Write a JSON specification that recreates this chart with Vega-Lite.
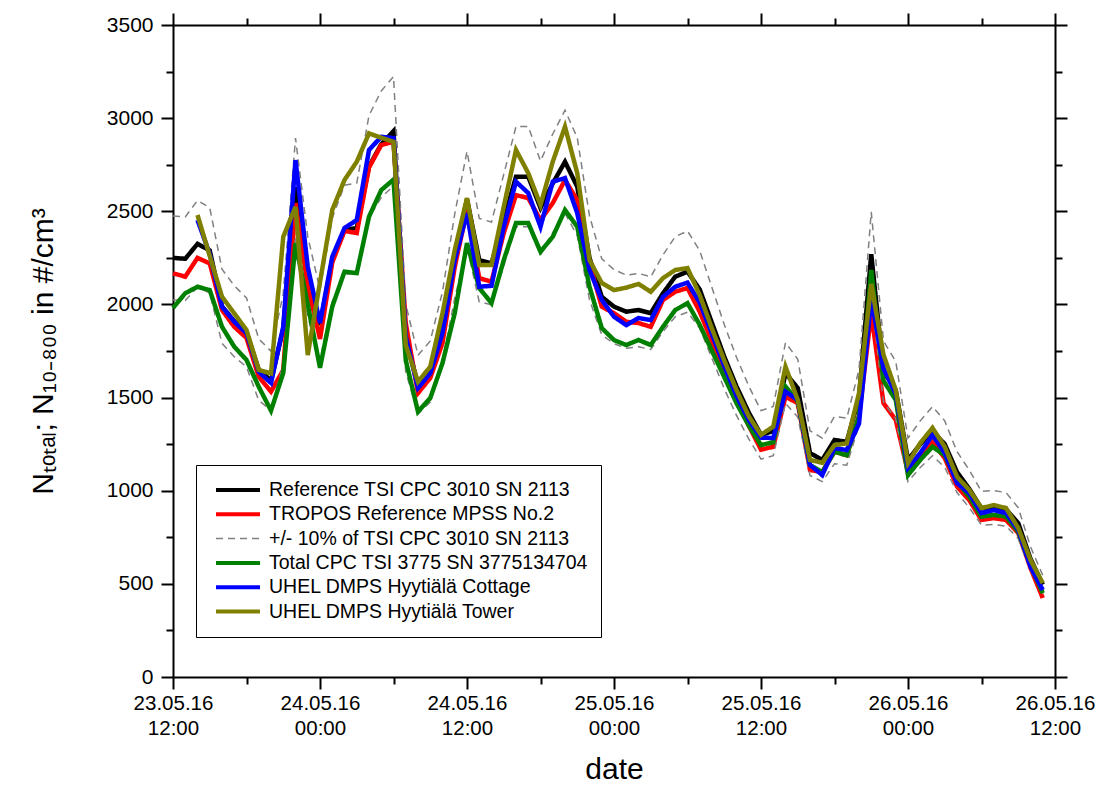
{
"$schema":"https://vega.github.io/schema/vega-lite/v6.json",
"width":882,"height":652,
"autosize":{"type":"none"},
"padding":{"left":173,"top":25,"right":45,"bottom":111},
"background":"white",
"datasets":{"d":[
{"t":"160523 12","s":"ref","v":2250},{"t":"160523 13","s":"ref","v":2245},{"t":"160523 14","s":"ref","v":2325},{"t":"160523 15","s":"ref","v":2290},{"t":"160523 16","s":"ref","v":1990},{"t":"160523 17","s":"ref","v":1910},{"t":"160523 18","s":"ref","v":1850},{"t":"160523 19","s":"ref","v":1650},{"t":"160523 20","s":"ref","v":1590},{"t":"160523 21","s":"ref","v":1870},{"t":"160523 22","s":"ref","v":2630},{"t":"160523 23","s":"ref","v":2150},
{"t":"160524 00","s":"ref","v":1890},{"t":"160524 01","s":"ref","v":2240},{"t":"160524 02","s":"ref","v":2400},{"t":"160524 03","s":"ref","v":2410},{"t":"160524 04","s":"ref","v":2740},{"t":"160524 05","s":"ref","v":2860},{"t":"160524 06","s":"ref","v":2930},{"t":"160524 07","s":"ref","v":1820},{"t":"160524 08","s":"ref","v":1570},{"t":"160524 09","s":"ref","v":1640},{"t":"160524 10","s":"ref","v":1880},{"t":"160524 11","s":"ref","v":2260},
{"t":"160524 12","s":"ref","v":2565},{"t":"160524 13","s":"ref","v":2238},{"t":"160524 14","s":"ref","v":2220},{"t":"160524 15","s":"ref","v":2453},{"t":"160524 16","s":"ref","v":2686},{"t":"160524 17","s":"ref","v":2686},{"t":"160524 18","s":"ref","v":2518},{"t":"160524 19","s":"ref","v":2650},{"t":"160524 20","s":"ref","v":2766},{"t":"160524 21","s":"ref","v":2632},{"t":"160524 22","s":"ref","v":2250},{"t":"160524 23","s":"ref","v":2041},
{"t":"160525 00","s":"ref","v":1988},{"t":"160525 01","s":"ref","v":1961},{"t":"160525 02","s":"ref","v":1970},{"t":"160525 03","s":"ref","v":1953},{"t":"160525 04","s":"ref","v":2060},{"t":"160525 05","s":"ref","v":2149},{"t":"160525 06","s":"ref","v":2176},{"t":"160525 07","s":"ref","v":2080},{"t":"160525 08","s":"ref","v":1900},{"t":"160525 09","s":"ref","v":1720},{"t":"160525 10","s":"ref","v":1560},{"t":"160525 11","s":"ref","v":1420},
{"t":"160525 12","s":"ref","v":1300},{"t":"160525 13","s":"ref","v":1320},{"t":"160525 14","s":"ref","v":1632},{"t":"160525 15","s":"ref","v":1551},{"t":"160525 16","s":"ref","v":1202},{"t":"160525 17","s":"ref","v":1165},{"t":"160525 18","s":"ref","v":1272},{"t":"160525 19","s":"ref","v":1263},{"t":"160525 20","s":"ref","v":1500},{"t":"160525 21","s":"ref","v":2270},{"t":"160525 22","s":"ref","v":1640},{"t":"160525 23","s":"ref","v":1540},
{"t":"160526 00","s":"ref","v":1165},{"t":"160526 01","s":"ref","v":1250},{"t":"160526 02","s":"ref","v":1320},{"t":"160526 03","s":"ref","v":1250},{"t":"160526 04","s":"ref","v":1100},{"t":"160526 05","s":"ref","v":1010},{"t":"160526 06","s":"ref","v":905},{"t":"160526 07","s":"ref","v":910},{"t":"160526 08","s":"ref","v":900},{"t":"160526 09","s":"ref","v":826},{"t":"160526 10","s":"ref","v":635},{"t":"160526 11","s":"ref","v":496},

{"t":"160523 12","s":"tro","v":2167},{"t":"160523 13","s":"tro","v":2149},{"t":"160523 14","s":"tro","v":2250},{"t":"160523 15","s":"tro","v":2220},{"t":"160523 16","s":"tro","v":1970},{"t":"160523 17","s":"tro","v":1880},{"t":"160523 18","s":"tro","v":1820},{"t":"160523 19","s":"tro","v":1612},{"t":"160523 20","s":"tro","v":1532},{"t":"160523 21","s":"tro","v":1648},{"t":"160523 22","s":"tro","v":2544},{"t":"160523 23","s":"tro","v":2100},
{"t":"160524 00","s":"tro","v":1815},{"t":"160524 01","s":"tro","v":2225},{"t":"160524 02","s":"tro","v":2395},{"t":"160524 03","s":"tro","v":2383},{"t":"160524 04","s":"tro","v":2735},{"t":"160524 05","s":"tro","v":2856},{"t":"160524 06","s":"tro","v":2873},{"t":"160524 07","s":"tro","v":1900},{"t":"160524 08","s":"tro","v":1524},{"t":"160524 09","s":"tro","v":1605},{"t":"160524 10","s":"tro","v":1793},{"t":"160524 11","s":"tro","v":2202},
{"t":"160524 12","s":"tro","v":2507},{"t":"160524 13","s":"tro","v":2141},{"t":"160524 14","s":"tro","v":2122},{"t":"160524 15","s":"tro","v":2383},{"t":"160524 16","s":"tro","v":2587},{"t":"160524 17","s":"tro","v":2571},{"t":"160524 18","s":"tro","v":2453},{"t":"160524 19","s":"tro","v":2544},{"t":"160524 20","s":"tro","v":2668},{"t":"160524 21","s":"tro","v":2560},{"t":"160524 22","s":"tro","v":2220},{"t":"160524 23","s":"tro","v":1988},
{"t":"160525 00","s":"tro","v":1953},{"t":"160525 01","s":"tro","v":1907},{"t":"160525 02","s":"tro","v":1900},{"t":"160525 03","s":"tro","v":1880},{"t":"160525 04","s":"tro","v":2024},{"t":"160525 05","s":"tro","v":2068},{"t":"160525 06","s":"tro","v":2088},{"t":"160525 07","s":"tro","v":1960},{"t":"160525 08","s":"tro","v":1800},{"t":"160525 09","s":"tro","v":1640},{"t":"160525 10","s":"tro","v":1490},{"t":"160525 11","s":"tro","v":1350},
{"t":"160525 12","s":"tro","v":1220},{"t":"160525 13","s":"tro","v":1236},{"t":"160525 14","s":"tro","v":1505},{"t":"160525 15","s":"tro","v":1470},{"t":"160525 16","s":"tro","v":1111},{"t":"160525 17","s":"tro","v":1100},{"t":"160525 18","s":"tro","v":1210},{"t":"160525 19","s":"tro","v":1190},{"t":"160525 20","s":"tro","v":1400},{"t":"160525 21","s":"tro","v":1953},{"t":"160525 22","s":"tro","v":1470},{"t":"160525 23","s":"tro","v":1380},
{"t":"160526 00","s":"tro","v":1100},{"t":"160526 01","s":"tro","v":1180},{"t":"160526 02","s":"tro","v":1260},{"t":"160526 03","s":"tro","v":1175},{"t":"160526 04","s":"tro","v":1022},{"t":"160526 05","s":"tro","v":950},{"t":"160526 06","s":"tro","v":843},{"t":"160526 07","s":"tro","v":853},{"t":"160526 08","s":"tro","v":843},{"t":"160526 09","s":"tro","v":773},{"t":"160526 10","s":"tro","v":585},{"t":"160526 11","s":"tro","v":424},

{"t":"160523 12","s":"pm","k":"hi","v":2475},{"t":"160523 13","s":"pm","k":"hi","v":2470},{"t":"160523 14","s":"pm","k":"hi","v":2558},{"t":"160523 15","s":"pm","k":"hi","v":2519},{"t":"160523 16","s":"pm","k":"hi","v":2189},{"t":"160523 17","s":"pm","k":"hi","v":2101},{"t":"160523 18","s":"pm","k":"hi","v":2035},{"t":"160523 19","s":"pm","k":"hi","v":1815},{"t":"160523 20","s":"pm","k":"hi","v":1749},{"t":"160523 21","s":"pm","k":"hi","v":2057},{"t":"160523 22","s":"pm","k":"hi","v":2893},{"t":"160523 23","s":"pm","k":"hi","v":2365},
{"t":"160524 00","s":"pm","k":"hi","v":2079},{"t":"160524 01","s":"pm","k":"hi","v":2464},{"t":"160524 02","s":"pm","k":"hi","v":2640},{"t":"160524 03","s":"pm","k":"hi","v":2651},{"t":"160524 04","s":"pm","k":"hi","v":3014},{"t":"160524 05","s":"pm","k":"hi","v":3146},{"t":"160524 06","s":"pm","k":"hi","v":3223},{"t":"160524 07","s":"pm","k":"hi","v":2002},{"t":"160524 08","s":"pm","k":"hi","v":1727},{"t":"160524 09","s":"pm","k":"hi","v":1804},{"t":"160524 10","s":"pm","k":"hi","v":2068},{"t":"160524 11","s":"pm","k":"hi","v":2486},
{"t":"160524 12","s":"pm","k":"hi","v":2822},{"t":"160524 13","s":"pm","k":"hi","v":2462},{"t":"160524 14","s":"pm","k":"hi","v":2442},{"t":"160524 15","s":"pm","k":"hi","v":2698},{"t":"160524 16","s":"pm","k":"hi","v":2955},{"t":"160524 17","s":"pm","k":"hi","v":2955},{"t":"160524 18","s":"pm","k":"hi","v":2770},{"t":"160524 19","s":"pm","k":"hi","v":2915},{"t":"160524 20","s":"pm","k":"hi","v":3043},{"t":"160524 21","s":"pm","k":"hi","v":2895},{"t":"160524 22","s":"pm","k":"hi","v":2475},{"t":"160524 23","s":"pm","k":"hi","v":2245},
{"t":"160525 00","s":"pm","k":"hi","v":2187},{"t":"160525 01","s":"pm","k":"hi","v":2157},{"t":"160525 02","s":"pm","k":"hi","v":2167},{"t":"160525 03","s":"pm","k":"hi","v":2148},{"t":"160525 04","s":"pm","k":"hi","v":2266},{"t":"160525 05","s":"pm","k":"hi","v":2364},{"t":"160525 06","s":"pm","k":"hi","v":2394},{"t":"160525 07","s":"pm","k":"hi","v":2288},{"t":"160525 08","s":"pm","k":"hi","v":2090},{"t":"160525 09","s":"pm","k":"hi","v":1892},{"t":"160525 10","s":"pm","k":"hi","v":1716},{"t":"160525 11","s":"pm","k":"hi","v":1562},
{"t":"160525 12","s":"pm","k":"hi","v":1430},{"t":"160525 13","s":"pm","k":"hi","v":1452},{"t":"160525 14","s":"pm","k":"hi","v":1795},{"t":"160525 15","s":"pm","k":"hi","v":1706},{"t":"160525 16","s":"pm","k":"hi","v":1322},{"t":"160525 17","s":"pm","k":"hi","v":1282},{"t":"160525 18","s":"pm","k":"hi","v":1399},{"t":"160525 19","s":"pm","k":"hi","v":1389},{"t":"160525 20","s":"pm","k":"hi","v":1650},{"t":"160525 21","s":"pm","k":"hi","v":2497},{"t":"160525 22","s":"pm","k":"hi","v":1804},{"t":"160525 23","s":"pm","k":"hi","v":1694},
{"t":"160526 00","s":"pm","k":"hi","v":1282},{"t":"160526 01","s":"pm","k":"hi","v":1375},{"t":"160526 02","s":"pm","k":"hi","v":1452},{"t":"160526 03","s":"pm","k":"hi","v":1375},{"t":"160526 04","s":"pm","k":"hi","v":1210},{"t":"160526 05","s":"pm","k":"hi","v":1111},{"t":"160526 06","s":"pm","k":"hi","v":996},{"t":"160526 07","s":"pm","k":"hi","v":1001},{"t":"160526 08","s":"pm","k":"hi","v":990},{"t":"160526 09","s":"pm","k":"hi","v":909},{"t":"160526 10","s":"pm","k":"hi","v":699},{"t":"160526 11","s":"pm","k":"hi","v":546},

{"t":"160523 12","s":"pm","k":"lo","v":2025},{"t":"160523 13","s":"pm","k":"lo","v":2021},{"t":"160523 14","s":"pm","k":"lo","v":2093},{"t":"160523 15","s":"pm","k":"lo","v":2061},{"t":"160523 16","s":"pm","k":"lo","v":1791},{"t":"160523 17","s":"pm","k":"lo","v":1719},{"t":"160523 18","s":"pm","k":"lo","v":1665},{"t":"160523 19","s":"pm","k":"lo","v":1485},{"t":"160523 20","s":"pm","k":"lo","v":1431},{"t":"160523 21","s":"pm","k":"lo","v":1683},{"t":"160523 22","s":"pm","k":"lo","v":2367},{"t":"160523 23","s":"pm","k":"lo","v":1935},
{"t":"160524 00","s":"pm","k":"lo","v":1701},{"t":"160524 01","s":"pm","k":"lo","v":2016},{"t":"160524 02","s":"pm","k":"lo","v":2160},{"t":"160524 03","s":"pm","k":"lo","v":2169},{"t":"160524 04","s":"pm","k":"lo","v":2466},{"t":"160524 05","s":"pm","k":"lo","v":2574},{"t":"160524 06","s":"pm","k":"lo","v":2637},{"t":"160524 07","s":"pm","k":"lo","v":1638},{"t":"160524 08","s":"pm","k":"lo","v":1413},{"t":"160524 09","s":"pm","k":"lo","v":1476},{"t":"160524 10","s":"pm","k":"lo","v":1692},{"t":"160524 11","s":"pm","k":"lo","v":2034},
{"t":"160524 12","s":"pm","k":"lo","v":2309},{"t":"160524 13","s":"pm","k":"lo","v":2014},{"t":"160524 14","s":"pm","k":"lo","v":1998},{"t":"160524 15","s":"pm","k":"lo","v":2208},{"t":"160524 16","s":"pm","k":"lo","v":2417},{"t":"160524 17","s":"pm","k":"lo","v":2417},{"t":"160524 18","s":"pm","k":"lo","v":2266},{"t":"160524 19","s":"pm","k":"lo","v":2385},{"t":"160524 20","s":"pm","k":"lo","v":2489},{"t":"160524 21","s":"pm","k":"lo","v":2369},{"t":"160524 22","s":"pm","k":"lo","v":2025},{"t":"160524 23","s":"pm","k":"lo","v":1837},
{"t":"160525 00","s":"pm","k":"lo","v":1789},{"t":"160525 01","s":"pm","k":"lo","v":1765},{"t":"160525 02","s":"pm","k":"lo","v":1773},{"t":"160525 03","s":"pm","k":"lo","v":1758},{"t":"160525 04","s":"pm","k":"lo","v":1854},{"t":"160525 05","s":"pm","k":"lo","v":1934},{"t":"160525 06","s":"pm","k":"lo","v":1958},{"t":"160525 07","s":"pm","k":"lo","v":1872},{"t":"160525 08","s":"pm","k":"lo","v":1710},{"t":"160525 09","s":"pm","k":"lo","v":1548},{"t":"160525 10","s":"pm","k":"lo","v":1404},{"t":"160525 11","s":"pm","k":"lo","v":1278},
{"t":"160525 12","s":"pm","k":"lo","v":1170},{"t":"160525 13","s":"pm","k":"lo","v":1188},{"t":"160525 14","s":"pm","k":"lo","v":1469},{"t":"160525 15","s":"pm","k":"lo","v":1396},{"t":"160525 16","s":"pm","k":"lo","v":1082},{"t":"160525 17","s":"pm","k":"lo","v":1049},{"t":"160525 18","s":"pm","k":"lo","v":1145},{"t":"160525 19","s":"pm","k":"lo","v":1137},{"t":"160525 20","s":"pm","k":"lo","v":1350},{"t":"160525 21","s":"pm","k":"lo","v":2043},{"t":"160525 22","s":"pm","k":"lo","v":1476},{"t":"160525 23","s":"pm","k":"lo","v":1386},
{"t":"160526 00","s":"pm","k":"lo","v":1049},{"t":"160526 01","s":"pm","k":"lo","v":1125},{"t":"160526 02","s":"pm","k":"lo","v":1188},{"t":"160526 03","s":"pm","k":"lo","v":1125},{"t":"160526 04","s":"pm","k":"lo","v":990},{"t":"160526 05","s":"pm","k":"lo","v":909},{"t":"160526 06","s":"pm","k":"lo","v":815},{"t":"160526 07","s":"pm","k":"lo","v":819},{"t":"160526 08","s":"pm","k":"lo","v":810},{"t":"160526 09","s":"pm","k":"lo","v":743},{"t":"160526 10","s":"pm","k":"lo","v":572},{"t":"160526 11","s":"pm","k":"lo","v":446},

{"t":"160523 12","s":"cpc","v":1981},{"t":"160523 13","s":"cpc","v":2060},{"t":"160523 14","s":"cpc","v":2095},{"t":"160523 15","s":"cpc","v":2077},{"t":"160523 16","s":"cpc","v":1880},{"t":"160523 17","s":"cpc","v":1773},{"t":"160523 18","s":"cpc","v":1702},{"t":"160523 19","s":"cpc","v":1558},{"t":"160523 20","s":"cpc","v":1430},{"t":"160523 21","s":"cpc","v":1632},{"t":"160523 22","s":"cpc","v":2329},{"t":"160523 23","s":"cpc","v":2000},
{"t":"160524 00","s":"cpc","v":1660},{"t":"160524 01","s":"cpc","v":1988},{"t":"160524 02","s":"cpc","v":2176},{"t":"160524 03","s":"cpc","v":2168},{"t":"160524 04","s":"cpc","v":2471},{"t":"160524 05","s":"cpc","v":2614},{"t":"160524 06","s":"cpc","v":2670},{"t":"160524 07","s":"cpc","v":1700},{"t":"160524 08","s":"cpc","v":1424},{"t":"160524 09","s":"cpc","v":1497},{"t":"160524 10","s":"cpc","v":1685},{"t":"160524 11","s":"cpc","v":1953},
{"t":"160524 12","s":"cpc","v":2329},{"t":"160524 13","s":"cpc","v":2088},{"t":"160524 14","s":"cpc","v":2007},{"t":"160524 15","s":"cpc","v":2238},{"t":"160524 16","s":"cpc","v":2437},{"t":"160524 17","s":"cpc","v":2437},{"t":"160524 18","s":"cpc","v":2283},{"t":"160524 19","s":"cpc","v":2363},{"t":"160524 20","s":"cpc","v":2507},{"t":"160524 21","s":"cpc","v":2417},{"t":"160524 22","s":"cpc","v":2095},{"t":"160524 23","s":"cpc","v":1873},
{"t":"160525 00","s":"cpc","v":1809},{"t":"160525 01","s":"cpc","v":1782},{"t":"160525 02","s":"cpc","v":1809},{"t":"160525 03","s":"cpc","v":1782},{"t":"160525 04","s":"cpc","v":1880},{"t":"160525 05","s":"cpc","v":1970},{"t":"160525 06","s":"cpc","v":2007},{"t":"160525 07","s":"cpc","v":1890},{"t":"160525 08","s":"cpc","v":1750},{"t":"160525 09","s":"cpc","v":1610},{"t":"160525 10","s":"cpc","v":1470},{"t":"160525 11","s":"cpc","v":1350},
{"t":"160525 12","s":"cpc","v":1245},{"t":"160525 13","s":"cpc","v":1260},{"t":"160525 14","s":"cpc","v":1560},{"t":"160525 15","s":"cpc","v":1480},{"t":"160525 16","s":"cpc","v":1138},{"t":"160525 17","s":"cpc","v":1100},{"t":"160525 18","s":"cpc","v":1210},{"t":"160525 19","s":"cpc","v":1190},{"t":"160525 20","s":"cpc","v":1400},{"t":"160525 21","s":"cpc","v":2185},{"t":"160525 22","s":"cpc","v":1590},{"t":"160525 23","s":"cpc","v":1487},
{"t":"160526 00","s":"cpc","v":1084},{"t":"160526 01","s":"cpc","v":1165},{"t":"160526 02","s":"cpc","v":1236},{"t":"160526 03","s":"cpc","v":1190},{"t":"160526 04","s":"cpc","v":1050},{"t":"160526 05","s":"cpc","v":968},{"t":"160526 06","s":"cpc","v":861},{"t":"160526 07","s":"cpc","v":870},{"t":"160526 08","s":"cpc","v":861},{"t":"160526 09","s":"cpc","v":780},{"t":"160526 10","s":"cpc","v":600},{"t":"160526 11","s":"cpc","v":450},

{"t":"160523 14","s":"cot","v":2453},{"t":"160523 15","s":"cot","v":2270},{"t":"160523 16","s":"cot","v":1988},{"t":"160523 17","s":"cot","v":1907},{"t":"160523 18","s":"cot","v":1846},{"t":"160523 19","s":"cot","v":1639},{"t":"160523 20","s":"cot","v":1578},{"t":"160523 21","s":"cot","v":1880},{"t":"160523 22","s":"cot","v":2775},{"t":"160523 23","s":"cot","v":2202},
{"t":"160524 00","s":"cot","v":1900},{"t":"160524 01","s":"cot","v":2256},{"t":"160524 02","s":"cot","v":2410},{"t":"160524 03","s":"cot","v":2453},{"t":"160524 04","s":"cot","v":2829},{"t":"160524 05","s":"cot","v":2900},{"t":"160524 06","s":"cot","v":2893},{"t":"160524 07","s":"cot","v":1827},{"t":"160524 08","s":"cot","v":1551},{"t":"160524 09","s":"cot","v":1630},{"t":"160524 10","s":"cot","v":1846},{"t":"160524 11","s":"cot","v":2238},
{"t":"160524 12","s":"cot","v":2490},{"t":"160524 13","s":"cot","v":2095},{"t":"160524 14","s":"cot","v":2100},{"t":"160524 15","s":"cot","v":2417},{"t":"160524 16","s":"cot","v":2659},{"t":"160524 17","s":"cot","v":2598},{"t":"160524 18","s":"cot","v":2417},{"t":"160524 19","s":"cot","v":2659},{"t":"160524 20","s":"cot","v":2678},{"t":"160524 21","s":"cot","v":2490},{"t":"160524 22","s":"cot","v":2185},{"t":"160524 23","s":"cot","v":2024},
{"t":"160525 00","s":"cot","v":1934},{"t":"160525 01","s":"cot","v":1889},{"t":"160525 02","s":"cot","v":1927},{"t":"160525 03","s":"cot","v":1916},{"t":"160525 04","s":"cot","v":2041},{"t":"160525 05","s":"cot","v":2095},{"t":"160525 06","s":"cot","v":2117},{"t":"160525 07","s":"cot","v":2010},{"t":"160525 08","s":"cot","v":1840},{"t":"160525 09","s":"cot","v":1670},{"t":"160525 10","s":"cot","v":1510},{"t":"160525 11","s":"cot","v":1380},
{"t":"160525 12","s":"cot","v":1285},{"t":"160525 13","s":"cot","v":1283},{"t":"160525 14","s":"cot","v":1532},{"t":"160525 15","s":"cot","v":1487},{"t":"160525 16","s":"cot","v":1138},{"t":"160525 17","s":"cot","v":1084},{"t":"160525 18","s":"cot","v":1229},{"t":"160525 19","s":"cot","v":1218},{"t":"160525 20","s":"cot","v":1360},{"t":"160525 21","s":"cot","v":2034},{"t":"160525 22","s":"cot","v":1655},{"t":"160525 23","s":"cot","v":1520},
{"t":"160526 00","s":"cot","v":1122},{"t":"160526 01","s":"cot","v":1202},{"t":"160526 02","s":"cot","v":1299},{"t":"160526 03","s":"cot","v":1202},{"t":"160526 04","s":"cot","v":1041},{"t":"160526 05","s":"cot","v":987},{"t":"160526 06","s":"cot","v":880},{"t":"160526 07","s":"cot","v":896},{"t":"160526 08","s":"cot","v":880},{"t":"160526 09","s":"cot","v":790},{"t":"160526 10","s":"cot","v":592},{"t":"160526 11","s":"cot","v":467},

{"t":"160523 14","s":"tow","v":2480},{"t":"160523 15","s":"tow","v":2260},{"t":"160523 16","s":"tow","v":2041},{"t":"160523 17","s":"tow","v":1952},{"t":"160523 18","s":"tow","v":1863},{"t":"160523 19","s":"tow","v":1648},{"t":"160523 20","s":"tow","v":1630},{"t":"160523 21","s":"tow","v":2363},{"t":"160523 22","s":"tow","v":2524},{"t":"160523 23","s":"tow","v":1728},
{"t":"160524 00","s":"tow","v":2120},{"t":"160524 01","s":"tow","v":2507},{"t":"160524 02","s":"tow","v":2668},{"t":"160524 03","s":"tow","v":2766},{"t":"160524 04","s":"tow","v":2918},{"t":"160524 05","s":"tow","v":2895},{"t":"160524 06","s":"tow","v":2873},{"t":"160524 07","s":"tow","v":1782},{"t":"160524 08","s":"tow","v":1585},{"t":"160524 09","s":"tow","v":1666},{"t":"160524 10","s":"tow","v":1953},{"t":"160524 11","s":"tow","v":2292},
{"t":"160524 12","s":"tow","v":2571},{"t":"160524 13","s":"tow","v":2212},{"t":"160524 14","s":"tow","v":2212},{"t":"160524 15","s":"tow","v":2524},{"t":"160524 16","s":"tow","v":2829},{"t":"160524 17","s":"tow","v":2705},{"t":"160524 18","s":"tow","v":2534},{"t":"160524 19","s":"tow","v":2766},{"t":"160524 20","s":"tow","v":2954},{"t":"160524 21","s":"tow","v":2705},{"t":"160524 22","s":"tow","v":2238},{"t":"160524 23","s":"tow","v":2115},
{"t":"160525 00","s":"tow","v":2077},{"t":"160525 01","s":"tow","v":2090},{"t":"160525 02","s":"tow","v":2110},{"t":"160525 03","s":"tow","v":2068},{"t":"160525 04","s":"tow","v":2141},{"t":"160525 05","s":"tow","v":2185},{"t":"160525 06","s":"tow","v":2195},{"t":"160525 07","s":"tow","v":2050},{"t":"160525 08","s":"tow","v":1870},{"t":"160525 09","s":"tow","v":1700},{"t":"160525 10","s":"tow","v":1540},{"t":"160525 11","s":"tow","v":1400},
{"t":"160525 12","s":"tow","v":1300},{"t":"160525 13","s":"tow","v":1344},{"t":"160525 14","s":"tow","v":1666},{"t":"160525 15","s":"tow","v":1487},{"t":"160525 16","s":"tow","v":1165},{"t":"160525 17","s":"tow","v":1150},{"t":"160525 18","s":"tow","v":1245},{"t":"160525 19","s":"tow","v":1254},{"t":"160525 20","s":"tow","v":1524},{"t":"160525 21","s":"tow","v":2110},{"t":"160525 22","s":"tow","v":1730},{"t":"160525 23","s":"tow","v":1540},
{"t":"160526 00","s":"tow","v":1148},{"t":"160526 01","s":"tow","v":1256},{"t":"160526 02","s":"tow","v":1337},{"t":"160526 03","s":"tow","v":1236},{"t":"160526 04","s":"tow","v":1075},{"t":"160526 05","s":"tow","v":1004},{"t":"160526 06","s":"tow","v":907},{"t":"160526 07","s":"tow","v":923},{"t":"160526 08","s":"tow","v":907},{"t":"160526 09","s":"tow","v":800},{"t":"160526 10","s":"tow","v":628},{"t":"160526 11","s":"tow","v":504}
]},
"data":{"name":"d","format":{"parse":{"t":"utc:'%y%m%d %H'"}}},
"config":{
  "view":{"stroke":null},
  "font":"Liberation Sans",
  "axis":{"grid":false,"domainColor":"black","domainWidth":2,"tickColor":"black","tickWidth":2,"labelColor":"black","titleColor":"black","labelFont":"Liberation Sans","titleFont":"Liberation Sans","titleFontWeight":"normal","labelOverlap":false,"labelFlush":false},
  "legend":{"orient":"none","legendX":23,"legendY":440,"strokeColor":"black","fillColor":"white","padding":13,"symbolType":"stroke","symbolSize":1936,"symbolStrokeWidth":{"expr":"(datum.value == 'pm' ? 1.5 : 4)"},"symbolOffset":5,"labelFontSize":19.5,"labelFont":"Liberation Sans","labelColor":"black","clipHeight":24,"rowPadding":0.3,"labelOffset":7,"labelLimit":0,"title":null}
},
"encoding":{
  "x":{"field":"t","type":"temporal","scale":{"type":"utc","domain":[{"year":2016,"month":5,"date":23,"hours":12,"utc":true},{"year":2016,"month":5,"date":26,"hours":12,"utc":true}]},"axis":null},
  "y":{"field":"v","type":"quantitative","scale":{"domain":[0,3500],"nice":false,"zero":false},"axis":null},
  "color":{"field":"s","type":"nominal","scale":{"domain":["ref","tro","pm","cpc","cot","tow"],"range":["#000000","#ff0000","#808080","#008000","#0000ff","#808000"]},"legend":{"title":null,"labelExpr":"datum.value == 'ref' ? 'Reference TSI CPC 3010 SN 2113' : datum.value == 'tro' ? 'TROPOS Reference MPSS No.2' : datum.value == 'pm' ? '+/- 10% of TSI CPC 3010 SN 2113' : datum.value == 'cpc' ? 'Total CPC TSI 3775 SN 3775134704' : datum.value == 'cot' ? 'UHEL DMPS Hyytiälä Cottage' : 'UHEL DMPS Hyytiälä Tower'"}},
  "strokeDash":{"field":"s","type":"nominal","scale":{"domain":["ref","tro","pm","cpc","cot","tow"],"range":[[1,0],[1,0],[7,5],[1,0],[1,0],[1,0]]}}
},
"layer":[
  {"transform":[{"filter":{"field":"s","equal":"ref"}}],"mark":{"type":"line","strokeWidth":4.5,"strokeJoin":"miter"},
   "encoding":{
     "x":{"field":"t","type":"temporal","scale":{"type":"utc","domain":[{"year":2016,"month":5,"date":23,"hours":12,"utc":true},{"year":2016,"month":5,"date":26,"hours":12,"utc":true}]},
       "axis":{"orient":"bottom","title":"date","titleFontSize":30,"titlePadding":16,"labelFontSize":20.5,"labelLineHeight":25,"labelPadding":4,
         "values":[{"year":2016,"month":5,"date":23,"hours":12,"utc":true},{"year":2016,"month":5,"date":23,"hours":18,"utc":true},{"year":2016,"month":5,"date":24,"hours":0,"utc":true},{"year":2016,"month":5,"date":24,"hours":6,"utc":true},{"year":2016,"month":5,"date":24,"hours":12,"utc":true},{"year":2016,"month":5,"date":24,"hours":18,"utc":true},{"year":2016,"month":5,"date":25,"hours":0,"utc":true},{"year":2016,"month":5,"date":25,"hours":6,"utc":true},{"year":2016,"month":5,"date":25,"hours":12,"utc":true},{"year":2016,"month":5,"date":25,"hours":18,"utc":true},{"year":2016,"month":5,"date":26,"hours":0,"utc":true},{"year":2016,"month":5,"date":26,"hours":6,"utc":true},{"year":2016,"month":5,"date":26,"hours":12,"utc":true}],
         "tickSize":{"condition":{"test":"utchours(datum.value) % 12 == 0","value":12},"value":7},
         "labelExpr":"utchours(datum.value) % 12 == 0 ? [utcFormat(datum.value,'%d.%m.%y'), utcFormat(datum.value,'%H:%M')] : ''"}},
     "y":{"field":"v","type":"quantitative","scale":{"domain":[0,3500],"nice":false,"zero":false},
       "axis":{"orient":"left","title":"Nₜₒₜₐₗ; N₁₀₋₈₀₀ in #/cm³","titleFontSize":30,"titlePadding":48,"labelFontSize":21,"labelPadding":8,"format":"d",
         "values":[0,250,500,750,1000,1250,1500,1750,2000,2250,2500,2750,3000,3250,3500],
         "tickSize":{"condition":{"test":"datum.value % 500 == 0","value":12},"value":7},
         "labelExpr":"datum.value % 500 == 0 ? datum.label : ''"}}
   }},
  {"transform":[{"filter":{"field":"s","equal":"tro"}}],"mark":{"type":"line","strokeWidth":4.5,"strokeJoin":"miter"},
   "encoding":{
     "x":{"field":"t","type":"temporal","scale":{"type":"utc","domain":[{"year":2016,"month":5,"date":23,"hours":12,"utc":true},{"year":2016,"month":5,"date":26,"hours":12,"utc":true}]},
       "axis":{"orient":"top","title":null,"labels":false,
         "values":[{"year":2016,"month":5,"date":23,"hours":12,"utc":true},{"year":2016,"month":5,"date":23,"hours":18,"utc":true},{"year":2016,"month":5,"date":24,"hours":0,"utc":true},{"year":2016,"month":5,"date":24,"hours":6,"utc":true},{"year":2016,"month":5,"date":24,"hours":12,"utc":true},{"year":2016,"month":5,"date":24,"hours":18,"utc":true},{"year":2016,"month":5,"date":25,"hours":0,"utc":true},{"year":2016,"month":5,"date":25,"hours":6,"utc":true},{"year":2016,"month":5,"date":25,"hours":12,"utc":true},{"year":2016,"month":5,"date":25,"hours":18,"utc":true},{"year":2016,"month":5,"date":26,"hours":0,"utc":true},{"year":2016,"month":5,"date":26,"hours":6,"utc":true},{"year":2016,"month":5,"date":26,"hours":12,"utc":true}],
         "tickSize":{"condition":{"test":"utchours(datum.value) % 12 == 0","value":12},"value":7}}},
     "y":{"field":"v","type":"quantitative","scale":{"domain":[0,3500],"nice":false,"zero":false},
       "axis":{"orient":"right","title":null,"labels":false,
         "values":[0,250,500,750,1000,1250,1500,1750,2000,2250,2500,2750,3000,3250,3500],
         "tickSize":{"condition":{"test":"datum.value % 500 == 0","value":12},"value":7}}}
   }},
  {"transform":[{"filter":{"field":"s","equal":"pm"}}],"mark":{"type":"line","strokeWidth":1.5},"encoding":{"detail":{"field":"k"}}},
  {"transform":[{"filter":{"field":"s","equal":"cpc"}}],"mark":{"type":"line","strokeWidth":4.5,"strokeJoin":"miter"}},
  {"transform":[{"filter":{"field":"s","equal":"cot"}}],"mark":{"type":"line","strokeWidth":4.5,"strokeJoin":"miter"}},
  {"transform":[{"filter":{"field":"s","equal":"tow"}}],"mark":{"type":"line","strokeWidth":4.5,"strokeJoin":"miter"}}
]
}
